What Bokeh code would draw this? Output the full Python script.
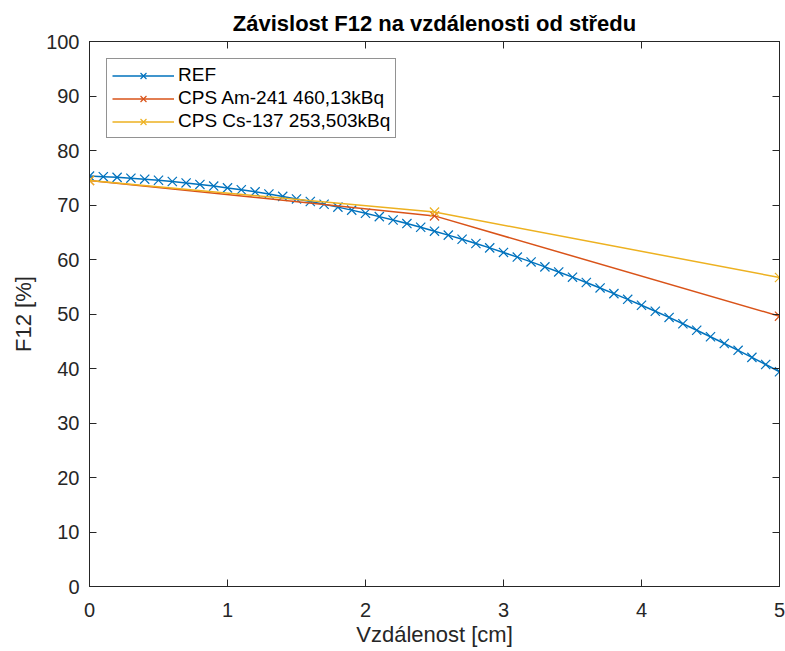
from bokeh.plotting import figure
from bokeh.models import Range1d, LinearAxis, FixedTicker, Legend, LegendItem
from bokeh.embed import file_html
from bokeh.resources import INLINE

# Data
x_ref = [round(i * 0.1, 1) for i in range(51)]
y_ref = [75.30, 75.20, 75.07, 74.92, 74.74, 74.54, 74.31, 74.05, 73.78, 73.47,
         73.14, 72.79, 72.41, 72.01, 71.58, 71.12, 70.65, 70.14, 69.61, 69.06,
         68.48, 67.87, 67.24, 66.59, 65.91, 65.20, 64.47, 63.71, 62.93, 62.13,
         61.30, 60.44, 59.56, 58.65, 57.72, 56.76, 55.78, 54.78, 53.74, 52.69,
         51.60, 50.50, 49.37, 48.21, 47.02, 45.82, 44.58, 43.33, 42.04, 40.73,
         39.40]
x_cps = [0, 2.5, 5]
y_am = [74.5, 68.0, 49.6]
y_cs = [74.5, 68.7, 56.7]
labels = ["REF", "CPS Am-241 460,13kBq", "CPS Cs-137 253,503kBq"]
colors = ["#0072BD", "#D95319", "#EDB120"]
x_ticks = [0, 1, 2, 3, 4, 5]
y_ticks = list(range(0, 101, 10))

FONT = "Liberation Sans"
AX = "#262626"

p = figure(width=785, height=651, output_backend="svg", toolbar_location=None,
           x_range=Range1d(0, 5), y_range=Range1d(0, 100),
           min_border_left=89, min_border_right=6, min_border_top=41,
           min_border_bottom=65, x_axis_label="Vzdálenost [cm]",
           y_axis_label="F12 [%]", title="Závislost F12 na vzdálenosti od středu")

p.title.align = "center"
p.title.text_font = FONT
p.title.text_font_size = "22px"
p.title.text_font_style = "bold"
p.title.text_color = "#000000"
p.title.offset = 0
p.title.standoff = 11

p.xgrid.visible = False
p.ygrid.visible = False
p.outline_line_color = AX
p.outline_line_width = 1

for ax in [p.xaxis[0], p.yaxis[0]]:
    ax.axis_line_color = AX
    ax.major_tick_line_color = AX
    ax.major_tick_in = 7
    ax.major_tick_out = 0
    ax.minor_tick_line_color = None
    ax.major_label_text_font = FONT
    ax.major_label_text_font_size = "20px"
    ax.major_label_text_color = AX
    ax.axis_label_text_font = FONT
    ax.axis_label_text_font_size = "22px"
    ax.axis_label_text_font_style = "normal"
    ax.axis_label_text_color = AX
p.xaxis[0].ticker = FixedTicker(ticks=x_ticks)
p.yaxis[0].ticker = FixedTicker(ticks=y_ticks)
p.xaxis[0].major_label_standoff = 16
p.yaxis[0].major_label_standoff = 10
p.xaxis[0].axis_label_standoff = 2
p.yaxis[0].axis_label_standoff = 7

# mirrored ticks (box)
top = LinearAxis(ticker=FixedTicker(ticks=x_ticks), major_label_text_font_size="1px",
                 major_label_text_color=None,
                 major_tick_in=7, major_tick_out=0, minor_tick_line_color=None,
                 axis_line_color=AX, major_tick_line_color=AX, major_label_standoff=0)
right = LinearAxis(ticker=FixedTicker(ticks=y_ticks), major_label_text_font_size="1px",
                   major_label_text_color=None,
                   major_tick_in=7, major_tick_out=0, minor_tick_line_color=None,
                   axis_line_color=AX, major_tick_line_color=AX, major_label_standoff=0)
p.add_layout(top, "above")
p.add_layout(right, "right")

items = []
for (xs, ys), lab, col in zip([(x_ref, y_ref), (x_cps, y_am), (x_cps, y_cs)], labels, colors):
    r1 = p.line(xs, ys, line_color=col, line_width=1.5)
    r2 = p.scatter(xs, ys, marker="x", size=13, line_color=col, line_width=1.2)
    items.append(LegendItem(label=lab, renderers=[r1, r2]))

legend = Legend(items=items, location="top_left", margin=17, padding=5, spacing=1,
                label_text_font=FONT, label_text_font_size="19px", label_text_color="#000000",
                glyph_width=62, glyph_height=21, label_height=21, label_standoff=4,
                border_line_color=AX, border_line_width=1, background_fill_alpha=1)
p.add_layout(legend)

open("out.html", "w").write(file_html(p, INLINE))
